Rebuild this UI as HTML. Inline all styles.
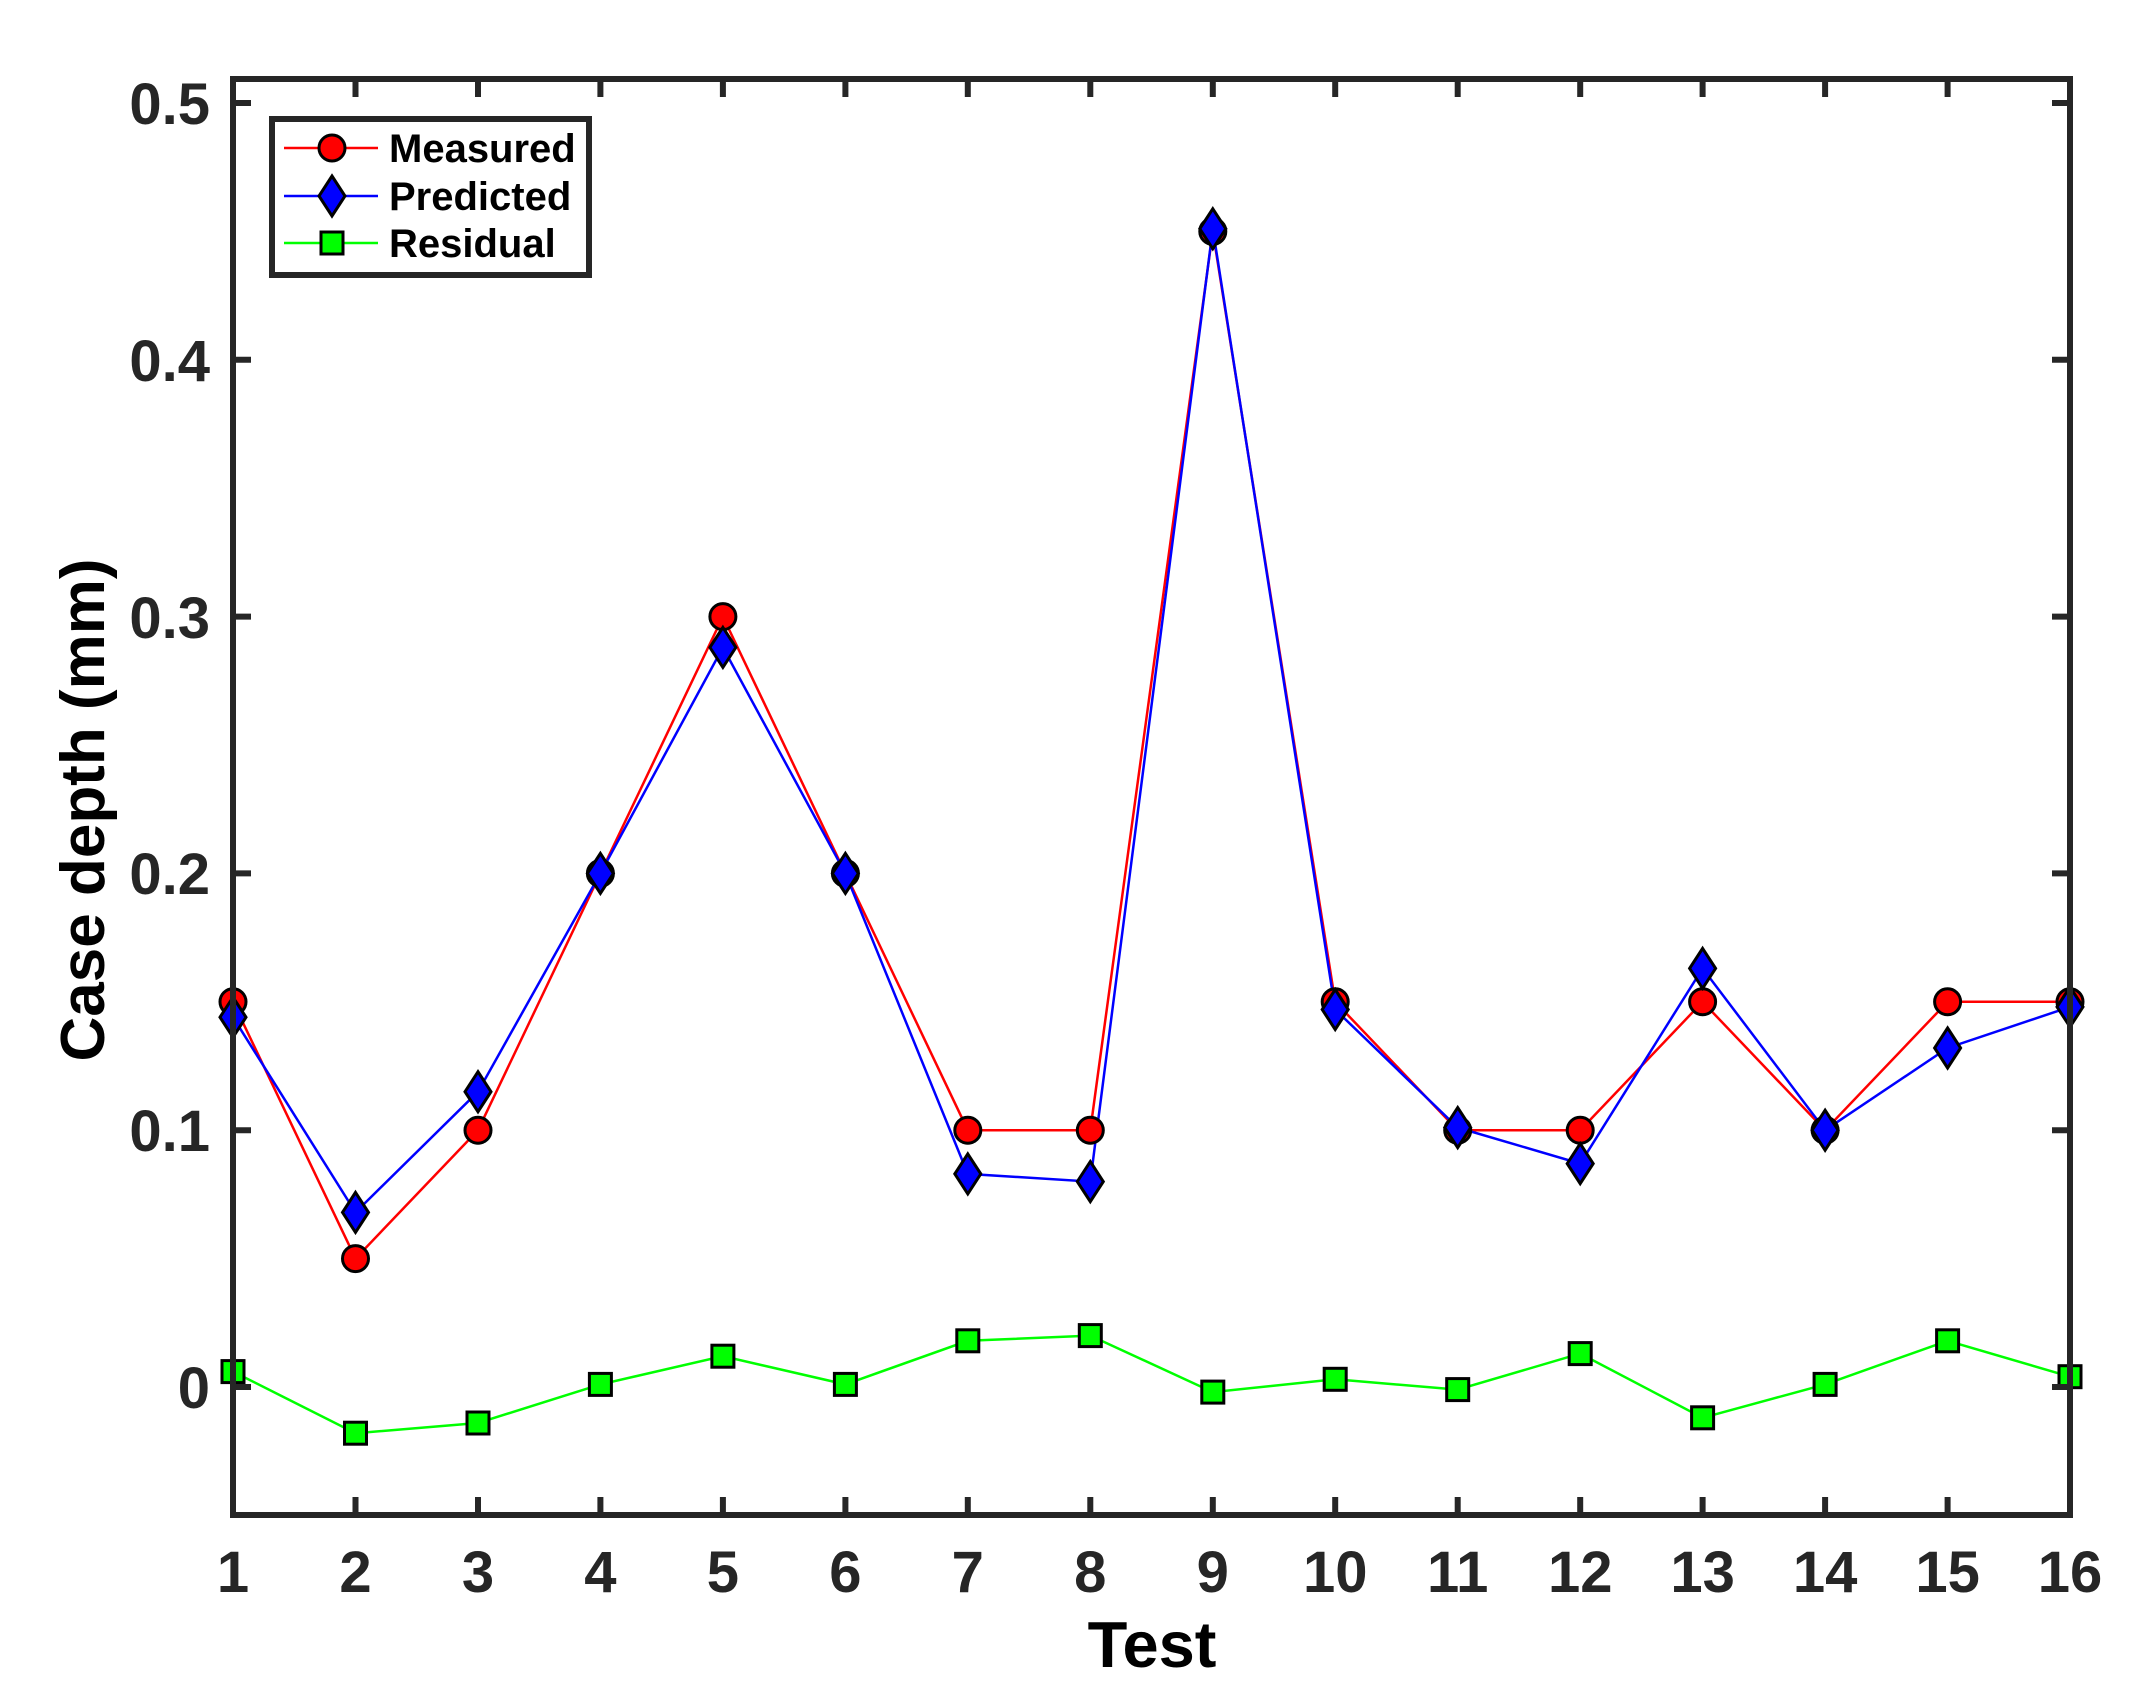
<!DOCTYPE html>
<html><head><meta charset="utf-8"><style>html,body{margin:0;padding:0;background:#fff}svg{display:block}</style></head>
<body>
<svg width="2141" height="1703" viewBox="0 0 2141 1703" xmlns="http://www.w3.org/2000/svg" font-family="Liberation Sans, sans-serif" font-weight="bold">
<defs>
<g id="c"><circle r="13" fill="#ff0000" stroke="#000" stroke-width="3"/></g>
<g id="d"><polygon points="0,-20 13,0 0,20 -13,0" fill="#0000ff" stroke="#000" stroke-width="3"/></g>
<g id="s"><rect x="-11" y="-11" width="22" height="22" fill="#00ff00" stroke="#000" stroke-width="3"/></g>
</defs>
<rect width="2141" height="1703" fill="#fff"/>
<polyline fill="none" stroke="#00ff00" stroke-width="2.5" points="233,1371.6 355.5,1433.2 478,1423 600.4,1384.4 722.9,1356.2 845.4,1384.4 967.8,1340.8 1090.3,1335.6 1212.8,1392.1 1335.2,1379.3 1457.7,1389.6 1580.2,1353.6 1702.6,1417.8 1825.1,1384.4 1947.6,1340.8 2070,1376.7"/>
<polyline fill="none" stroke="#ff0000" stroke-width="2.5" points="233,1001.8 355.5,1258.6 478,1130.2 600.4,873.4 722.9,616.6 845.4,873.4 967.8,1130.2 1090.3,1130.2 1212.8,231.4 1335.2,1001.8 1457.7,1130.2 1580.2,1130.2 1702.6,1001.8 1825.1,1130.2 1947.6,1001.8 2070,1001.8"/>
<polyline fill="none" stroke="#0000ff" stroke-width="2.5" points="233,1017.2 355.5,1212.4 478,1091.7 600.4,873.4 722.9,647.4 845.4,873.4 967.8,1173.9 1090.3,1181.6 1212.8,228.8 1335.2,1009.5 1457.7,1127.6 1580.2,1163.6 1702.6,968.4 1825.1,1130.2 1947.6,1048 2070,1006.9"/>
<g>
<use href="#c" x="233" y="1001.8"/><use href="#c" x="355.5" y="1258.6"/><use href="#c" x="478" y="1130.2"/><use href="#c" x="600.4" y="873.4"/><use href="#c" x="722.9" y="616.6"/><use href="#c" x="845.4" y="873.4"/><use href="#c" x="967.8" y="1130.2"/><use href="#c" x="1090.3" y="1130.2"/><use href="#c" x="1212.8" y="231.4"/><use href="#c" x="1335.2" y="1001.8"/><use href="#c" x="1457.7" y="1130.2"/><use href="#c" x="1580.2" y="1130.2"/><use href="#c" x="1702.6" y="1001.8"/><use href="#c" x="1825.1" y="1130.2"/><use href="#c" x="1947.6" y="1001.8"/><use href="#c" x="2070" y="1001.8"/>
</g>
<g>
<use href="#d" x="233" y="1017.2"/><use href="#d" x="355.5" y="1212.4"/><use href="#d" x="478" y="1091.7"/><use href="#d" x="600.4" y="873.4"/><use href="#d" x="722.9" y="647.4"/><use href="#d" x="845.4" y="873.4"/><use href="#d" x="967.8" y="1173.9"/><use href="#d" x="1090.3" y="1181.6"/><use href="#d" x="1212.8" y="228.8"/><use href="#d" x="1335.2" y="1009.5"/><use href="#d" x="1457.7" y="1127.6"/><use href="#d" x="1580.2" y="1163.6"/><use href="#d" x="1702.6" y="968.4"/><use href="#d" x="1825.1" y="1130.2"/><use href="#d" x="1947.6" y="1048"/><use href="#d" x="2070" y="1006.9"/>
</g>
<g>
<use href="#s" x="233" y="1371.6"/><use href="#s" x="355.5" y="1433.2"/><use href="#s" x="478" y="1423"/><use href="#s" x="600.4" y="1384.4"/><use href="#s" x="722.9" y="1356.2"/><use href="#s" x="845.4" y="1384.4"/><use href="#s" x="967.8" y="1340.8"/><use href="#s" x="1090.3" y="1335.6"/><use href="#s" x="1212.8" y="1392.1"/><use href="#s" x="1335.2" y="1379.3"/><use href="#s" x="1457.7" y="1389.6"/><use href="#s" x="1580.2" y="1353.6"/><use href="#s" x="1702.6" y="1417.8"/><use href="#s" x="1825.1" y="1384.4"/><use href="#s" x="1947.6" y="1340.8"/><use href="#s" x="2070" y="1376.7"/>
</g>
<rect x="233" y="79" width="1837" height="1436" fill="none" stroke="#262626" stroke-width="6"/>
<g stroke="#262626" stroke-width="6">
<path d="M233,1387h18M233,1130.2h18M233,873.4h18M233,616.6h18M233,359.8h18M233,103h18"/>
<path d="M2070,1387h-18M2070,1130.2h-18M2070,873.4h-18M2070,616.6h-18M2070,359.8h-18M2070,103h-18"/>
<path d="M355.5,1515v-18M478,1515v-18M600.4,1515v-18M722.9,1515v-18M845.4,1515v-18M967.8,1515v-18M1090.3,1515v-18M1212.8,1515v-18M1335.2,1515v-18M1457.7,1515v-18M1580.2,1515v-18M1702.6,1515v-18M1825.1,1515v-18M1947.6,1515v-18"/>
<path d="M355.5,79v18M478,79v18M600.4,79v18M722.9,79v18M845.4,79v18M967.8,79v18M1090.3,79v18M1212.8,79v18M1335.2,79v18M1457.7,79v18M1580.2,79v18M1702.6,79v18M1825.1,79v18M1947.6,79v18"/>
</g>
<g fill="#262626" font-size="58" text-anchor="end">
<text x="210" y="1408">0</text><text x="210" y="1151">0.1</text><text x="210" y="894">0.2</text><text x="210" y="638">0.3</text><text x="210" y="381">0.4</text><text x="210" y="124">0.5</text>
</g>
<g fill="#262626" font-size="58" text-anchor="middle">
<text x="233" y="1592">1</text><text x="355.5" y="1592">2</text><text x="478" y="1592">3</text><text x="600.4" y="1592">4</text><text x="722.9" y="1592">5</text><text x="845.4" y="1592">6</text><text x="967.8" y="1592">7</text><text x="1090.3" y="1592">8</text><text x="1212.8" y="1592">9</text><text x="1335.2" y="1592">10</text><text x="1457.7" y="1592">11</text><text x="1580.2" y="1592">12</text><text x="1702.6" y="1592">13</text><text x="1825.1" y="1592">14</text><text x="1947.6" y="1592">15</text><text x="2070" y="1592">16</text>
</g>
<text x="1152" y="1667" font-size="65" text-anchor="middle" fill="#000">Test</text>
<text transform="translate(104,810) rotate(-90)" font-size="62" text-anchor="middle" fill="#000">Case depth (mm)</text>
<rect x="272" y="119" width="317" height="156" fill="#fff" stroke="#262626" stroke-width="6"/>
<line x1="284" y1="148" x2="378" y2="148" stroke="#ff0000" stroke-width="2.5"/>
<use href="#c" x="332" y="148"/>
<line x1="284" y1="196" x2="378" y2="196" stroke="#0000ff" stroke-width="2.5"/>
<use href="#d" x="332" y="196"/>
<line x1="284" y1="243" x2="378" y2="243" stroke="#00ff00" stroke-width="2.5"/>
<use href="#s" x="332" y="243"/>
<g font-size="40" fill="#000">
<text x="389" y="162">Measured</text><text x="389" y="210">Predicted</text><text x="389" y="257">Residual</text>
</g>
</svg>
</body></html>
